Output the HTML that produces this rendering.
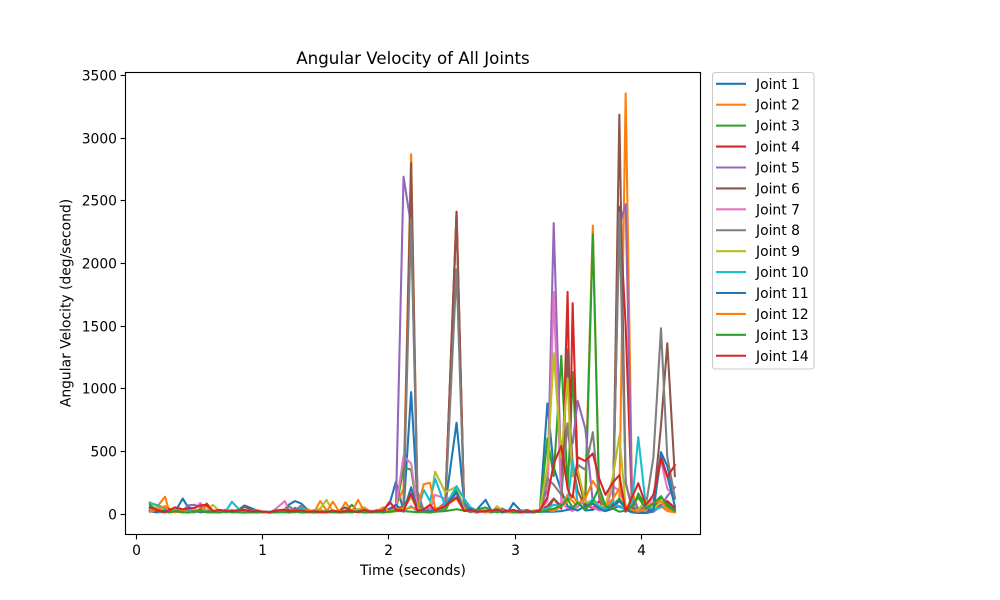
<!DOCTYPE html>
<html>
<head>
<meta charset="utf-8">
<title>Angular Velocity of All Joints</title>
<style>
html,body{margin:0;padding:0;background:#fff;}
svg{display:block;font-family:"DejaVu Sans","Liberation Sans",sans-serif;}
</style>
</head>
<body>
<svg id="chart" width="1000" height="600" viewBox="0 0 1000 600" xmlns="http://www.w3.org/2000/svg"></svg>
<script>
const times = [
0.11,0.16,0.23,0.26,0.31,0.37,0.41,0.46,0.51,0.56,0.61,0.66,0.71,0.76,0.81,0.86,0.91,0.96,1.01,1.06,
1.11,1.18,1.21,1.26,1.31,1.36,1.41,1.46,1.51,1.56,1.61,1.66,1.71,1.76,1.81,1.86,1.91,1.96,2.01,2.06,
2.12,2.18,2.23,2.28,2.33,2.37,2.45,2.54,2.60,
2.65,2.70,2.77,2.82,2.86,2.90,2.95,2.99,3.05,3.10,3.15,3.20,
3.26,3.31,3.37,3.42,3.44,3.46,3.50,3.56,3.62,3.67,3.72,3.78,3.83,3.88,3.93,3.98,4.04,4.10,4.16,4.21,4.27];
const joint1 = [40,15,10,25,15,120,55,30,20,15,10,12,25,18,30,65,45,25,15,12,20,35,70,100,80,30,15,10,25,12,10,20,15,30,12,10,20,35,80,255,
20,970,110,25,15,40,60,725,90,
20,30,110,15,25,40,15,85,20,30,10,25,
880,370,180,60,50,40,90,25,30,60,20,40,60,30,10,5,5,15,490,380,120];
const joint2 = [30,45,135,25,15,10,20,15,40,15,10,25,10,15,12,8,15,10,8,12,20,12,25,15,20,35,10,100,25,15,10,90,20,30,25,12,15,30,25,60,
200,2870,140,30,40,20,60,2410,50,
15,25,20,10,30,15,10,25,15,10,20,30,
20,40,60,150,120,100,50,170,2300,130,40,50,100,3355,180,30,40,25,60,20,10];
const joint3 = [85,70,40,20,30,15,25,10,30,20,15,10,25,12,15,20,10,15,12,10,15,20,10,15,25,12,10,20,15,10,25,15,70,20,10,15,25,10,20,30,
370,350,30,20,70,15,25,190,40,
20,10,30,15,25,10,20,15,10,20,15,20,
600,300,1260,200,600,1130,300,60,2230,150,30,70,120,40,25,160,60,40,130,80,30];
const joint4 = [20,10,15,40,20,12,25,30,15,80,20,10,30,15,12,25,10,15,10,8,15,25,12,18,10,15,22,10,12,18,10,25,12,15,30,10,15,20,12,35,
60,150,40,15,30,25,60,2410,40,
15,20,10,25,15,20,12,10,25,15,10,25,
60,120,40,1770,600,1680,300,80,40,100,30,80,2450,1500,60,25,40,20,70,100,45];
const joint5 = [30,15,10,20,25,15,65,70,55,25,15,20,12,30,15,20,10,8,15,12,10,20,25,12,15,10,20,12,10,15,20,12,15,25,10,15,12,20,30,70,
2690,2300,180,25,40,20,90,160,30,
15,10,20,12,25,10,15,10,20,12,15,30,
200,2320,280,720,620,560,900,680,90,30,20,120,2300,2470,120,40,20,15,60,140,210];
const joint6 = [50,30,20,15,25,10,20,15,30,12,10,15,20,10,25,55,30,20,10,8,15,30,10,45,25,20,10,15,10,12,25,50,15,20,30,10,15,12,20,25,
60,2800,90,20,15,30,50,2380,60,
15,10,25,12,20,10,15,20,12,10,15,20,
20,120,60,1310,700,400,180,50,90,30,25,90,3185,250,40,30,25,80,700,1360,300];
const joint7 = [30,12,20,10,25,15,35,30,85,15,20,10,25,15,12,10,18,15,10,8,40,100,30,20,15,10,25,12,10,15,10,20,12,15,10,25,12,18,15,40,
460,400,50,15,30,150,120,130,35,
10,15,12,25,10,15,12,20,10,12,15,20,
100,1770,90,40,30,20,60,100,50,25,30,220,180,60,15,10,20,150,420,200,130];
const joint8 = [15,20,10,25,12,30,15,10,25,15,12,20,10,15,20,10,12,8,15,10,20,15,60,25,65,15,12,30,10,20,15,12,25,10,15,12,30,10,20,35,
50,2350,150,25,20,30,40,1950,70,
15,25,12,10,20,15,25,15,10,20,15,30,
280,230,150,720,500,300,390,350,650,120,30,100,2400,240,60,30,60,450,1480,450,130];
const joint9 = [90,60,30,15,25,12,20,35,15,25,70,20,15,25,12,10,15,30,12,10,20,35,15,10,25,12,30,40,110,15,25,12,15,35,50,15,12,25,10,20,
40,130,40,30,70,335,170,215,40,
20,15,30,10,60,25,15,10,20,15,25,30,
380,1280,450,1080,600,300,350,90,100,60,60,300,620,60,20,30,110,30,100,60,20];
const joint10 = [85,70,45,20,15,25,30,12,20,15,10,25,15,95,40,15,20,12,10,15,25,12,15,10,45,20,12,10,25,15,12,20,10,15,25,10,15,12,20,30,
20,60,15,190,100,280,60,220,120,
50,25,12,20,15,30,10,15,12,25,15,30,
40,70,60,100,250,430,80,40,120,60,30,100,50,40,80,610,60,30,50,60,20];
const joint11 = [20,12,25,10,15,30,12,20,10,15,25,12,18,10,15,20,10,12,15,8,12,18,30,15,10,12,20,15,10,25,12,15,10,20,12,15,10,20,40,70,
15,210,30,20,15,25,60,170,25,
40,15,20,10,25,12,15,10,20,12,10,15,
15,15,20,30,35,40,25,60,80,40,20,60,100,40,15,8,5,30,460,300,60];
const joint12 = [15,30,60,20,10,25,12,15,20,60,15,10,18,12,20,10,8,12,15,10,18,12,20,15,10,25,12,20,15,95,15,20,12,110,15,12,20,50,15,40,
30,50,40,235,245,40,60,120,30,
15,30,12,20,10,25,15,10,12,20,15,25,
30,20,60,100,120,150,80,120,260,180,60,120,200,60,30,15,40,90,100,40,10];
const joint13 = [70,30,15,10,20,12,8,15,25,10,12,8,15,12,10,8,12,10,15,8,10,12,8,15,10,12,8,10,15,12,8,10,12,15,8,10,12,8,15,20,
20,15,10,12,8,15,20,35,25,
15,30,50,20,12,15,25,10,8,20,15,12,
30,40,60,120,80,50,90,30,100,210,60,40,15,25,60,130,40,80,140,60,20];
const joint14 = [50,30,12,25,50,35,40,45,65,70,20,30,22,20,25,30,18,22,15,12,25,30,18,22,25,15,20,12,10,25,15,18,22,12,30,15,20,25,95,30,
25,160,20,35,70,25,60,130,20,
30,15,20,25,35,18,22,30,12,20,15,25,
130,400,540,200,150,130,450,420,480,280,150,250,307,15,130,243,68,150,443,292,387];
const seriesValues = [joint1,joint2,joint3,joint4,joint5,joint6,joint7,joint8,joint9,joint10,joint11,joint12,joint13,joint14];
const seriesNames = ["Joint 1","Joint 2","Joint 3","Joint 4","Joint 5","Joint 6","Joint 7","Joint 8","Joint 9","Joint 10","Joint 11","Joint 12","Joint 13","Joint 14"];
const palette = ["#1f77b4","#ff7f0e","#2ca02c","#d62728","#9467bd","#8c564b","#e377c2","#7f7f7f","#bcbd22","#17becf"];
const xTicks = [0,1,2,3,4];
const yTicks = [0,500,1000,1500,2000,2500,3000,3500];

const NS = "http://www.w3.org/2000/svg";
const svg = document.getElementById("chart");
const plot = {left:125.5,right:700.5,top:72.5,bottom:534.5};
function xScale(t){return 136 + t*126.2;}
function yScale(v){return 513.6 - v*0.12525;}
function make(tag,attrs,parent){
  const el=document.createElementNS(NS,tag);
  for(const k in attrs){el.setAttribute(k,attrs[k]);}
  (parent||svg).appendChild(el);
  return el;
}
const seriesGroup = make("g",{fill:"none","stroke-width":2.08,"stroke-linejoin":"round","stroke-linecap":"square"});


seriesValues.forEach(function(vals,i){
  const pts=vals.map(function(v,j){return xScale(times[j]).toFixed(2)+","+yScale(v).toFixed(2);}).join(" ");
  const line=make("polyline",{points:pts,stroke:palette[i%10]},seriesGroup);
  
  
});
const frame = make("rect",{x:plot.left,y:plot.top,width:plot.right-plot.left,height:plot.bottom-plot.top,fill:"none",stroke:"#000","stroke-width":1.11});


xTicks.forEach(function(t){
  const x=Math.round(xScale(t))+0.5;
  const tick=make("line",{x1:x,x2:x,y1:plot.bottom,y2:plot.bottom+4.9,stroke:"#000","stroke-width":1.11});
  
  
  const lab=make("text",{x:x,y:555,"text-anchor":"middle","font-size":13.89,fill:"#000"});
  lab.textContent=String(t);
  
  
});
yTicks.forEach(function(v){
  const y=Math.round(yScale(v))+0.5;
  const tick=make("line",{x1:plot.left-4.9,x2:plot.left,y1:y,y2:y,stroke:"#000","stroke-width":1.11});
  
  
  const lab=make("text",{x:117,y:y+5,"text-anchor":"end","font-size":13.89,fill:"#000"});
  lab.textContent=String(v);
  
  
});
const title=make("text",{x:413,y:64,"text-anchor":"middle","font-size":16.67,fill:"#000"});
title.textContent="Angular Velocity of All Joints";


const xTitle=make("text",{x:413,y:575,"text-anchor":"middle","font-size":13.89,fill:"#000"});
xTitle.textContent="Time (seconds)";


const yTitle=make("text",{x:0,y:0,transform:"translate(70.5,303) rotate(-90)","text-anchor":"middle","font-size":13.89,fill:"#000"});
yTitle.textContent="Angular Velocity (deg/second)";


const legend=make("g",{});


const legendBox=make("rect",{x:712.5,y:72.5,width:101.5,height:296.5,rx:2.8,ry:2.8,fill:"#fff",stroke:"#cccccc","stroke-width":1.11},legend);


seriesNames.forEach(function(name,i){
  const y=83.8+i*20.92;
  const sw=make("line",{x1:716,x2:746,y1:y,y2:y,stroke:palette[i%10],"stroke-width":2.08},legend);
  
  
  const lab=make("text",{x:756,y:y+5,"font-size":13.89,fill:"#000"},legend);
  lab.textContent=name;
  
  
});
</script>
</body>
</html>
